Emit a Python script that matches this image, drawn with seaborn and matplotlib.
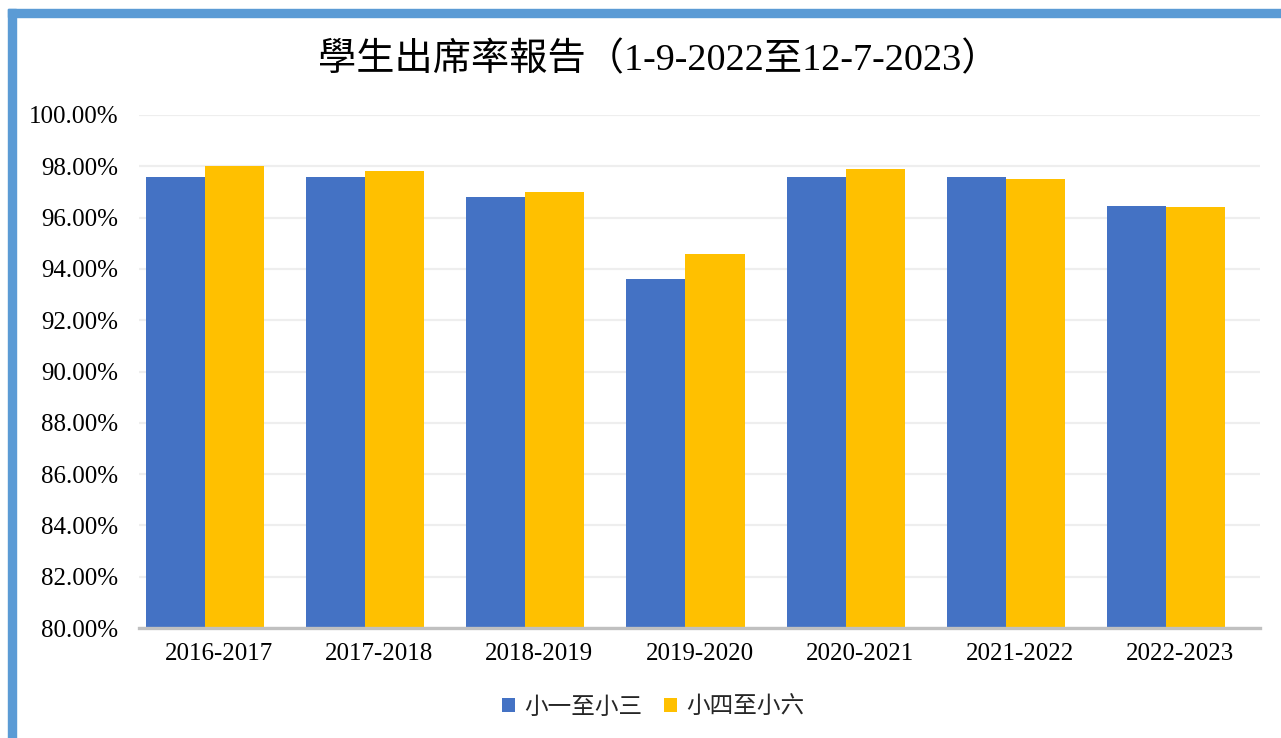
import numpy as np
import pandas as pd
import matplotlib.pyplot as plt
import seaborn as sns
from matplotlib.patches import Rectangle
from matplotlib.ticker import FuncFormatter

# 數據
years = ['2016-2017', '2017-2018', '2018-2019', '2019-2020', '2020-2021', '2021-2022', '2022-2023']
junior = [97.60, 97.60, 96.80, 93.60, 97.60, 97.60, 96.44]   # 小一至小三
senior = [98.00, 97.80, 97.00, 94.60, 97.90, 97.50, 96.43]   # 小四至小六
series_names = ['小一至小三', '小四至小六']
title = '學生出席率報告（1-9-2022至12-7-2023）'

df = pd.DataFrame({
    '年度': years * 2,
    '出席率': junior + senior,
    '級別': [series_names[0]] * len(years) + [series_names[1]] * len(years),
})

sns.set_theme(style='white')
plt.rcParams['font.family'] = ['Liberation Serif', 'Noto Sans CJK TC', 'DejaVu Sans']

fig = plt.figure(figsize=(12.81, 7.38), dpi=100)
ax = fig.add_axes([0.1085, 0.149, 0.8751, 0.6952])

sns.barplot(data=df, x='年度', y='出席率', hue='級別',
            palette=['#4472C4', '#FFC000'], width=0.7375,
            saturation=1, ax=ax, linewidth=0)

# 標籤略向右偏移（與原圖一致）
shift = 0.0875
n = len(years)
ax.set_xticks(np.arange(n) + shift)
ax.set_xticklabels(years, fontsize=18)
ax.set_xlim(-0.5 + shift, n - 0.5 + shift)

ax.set_ylim(80, 100)
ax.set_yticks(np.arange(80, 100.1, 2))
ax.yaxis.set_major_formatter(FuncFormatter(lambda v, p: f'{v:.2f}%'))
ax.tick_params(axis='y', labelsize=18, length=0, pad=15, colors='black')
ax.tick_params(axis='x', length=0, pad=11, colors='black')
ax.set_xlabel('')
ax.set_ylabel('')

ax.grid(axis='y', color='#EEEEEE', linewidth=1.6)
ax.set_axisbelow(True)
for s in ['top', 'right', 'left']:
    ax.spines[s].set_visible(False)
ax.spines['bottom'].set_color('#C0C0C0')
ax.spines['bottom'].set_linewidth(2.4)

fig.suptitle(title, fontsize=27.5, y=0.943, x=0.514, color='black')

sns.move_legend(ax, 'center', bbox_to_anchor=(0.51, 0.042),
                bbox_transform=fig.transFigure, ncol=2, frameon=False,
                title=None, handlelength=0.55, handleheight=0.55,
                handletextpad=0.4, columnspacing=0.9,
                prop={'family': ['Noto Sans CJK TC'], 'size': 17})

# 外框（上、左）
fig.patches.append(Rectangle((8 / 1281, 0), 8 / 1281, 1 - 9 / 738,
                             transform=fig.transFigure, color='#5B9BD5', zorder=0))
fig.patches.append(Rectangle((8 / 1281, 1 - 17 / 738), 1, 8 / 738,
                             transform=fig.transFigure, color='#5B9BD5', zorder=0))

fig.savefig('out.png', dpi=100, facecolor='white')
